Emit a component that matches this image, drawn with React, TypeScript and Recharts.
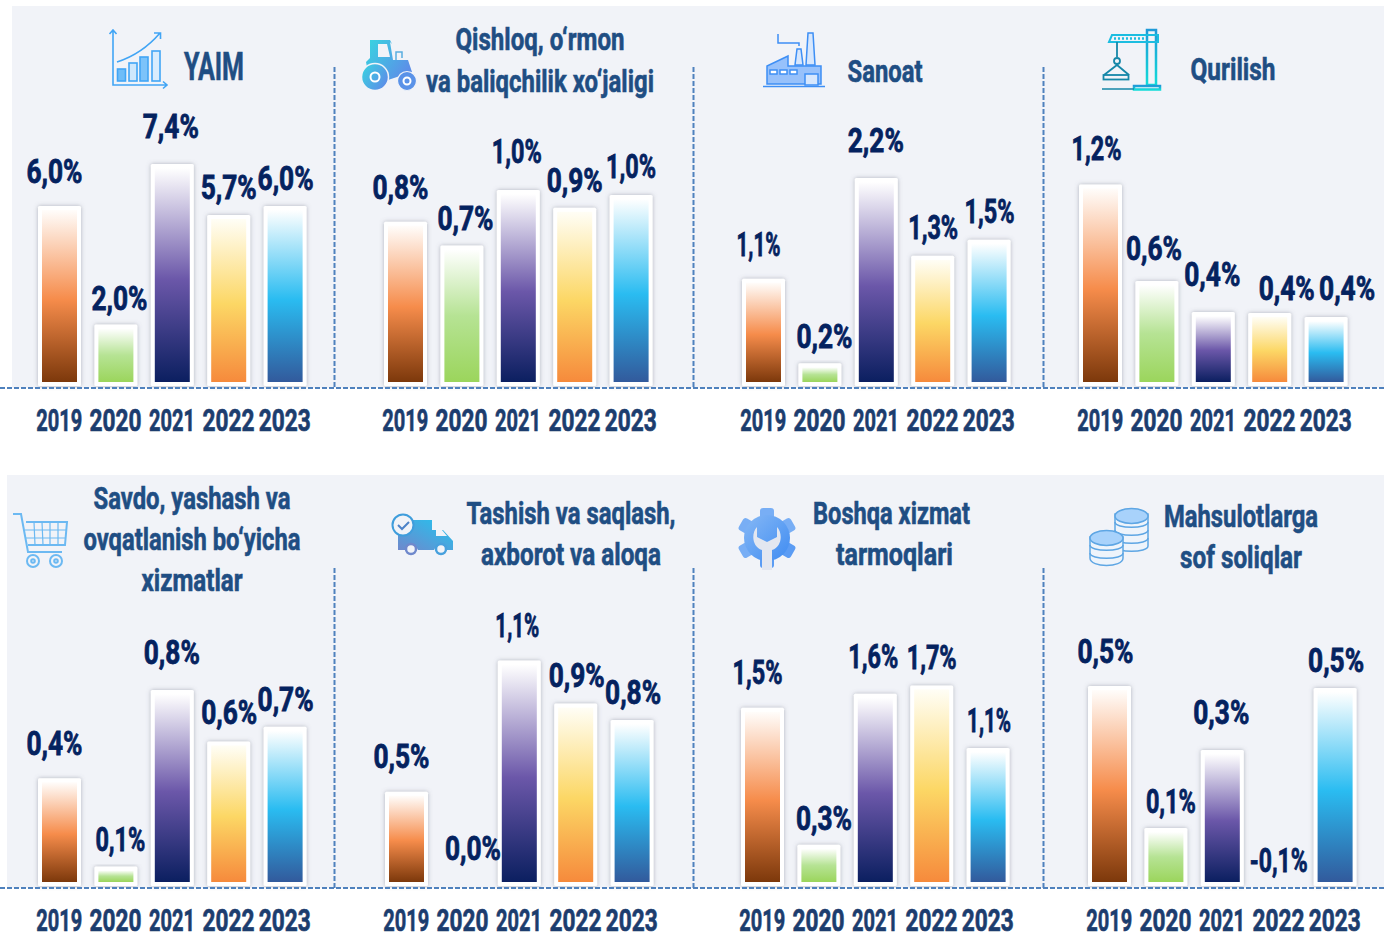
import { Bar, BarChart, LabelList, XAxis, YAxis } from "recharts";

const years = ["2019", "2020", "2021", "2022", "2023"];

// bar values per panel
const yaimValues = [6.0, 2.05, 7.4, 5.7, 6.0];
const qishloqValues = [0.83, 0.71, 0.99, 0.9, 0.965];
const sanoatValues = [1.13, 0.24, 2.19, 1.37, 1.54];
const qurilishValues = [1.2, 0.625, 0.44, 0.435, 0.41];
const savdoValues = [0.44, 0.08, 0.8, 0.59, 0.65];
const tashishValues = [0.46, 0, 1.1, 0.89, 0.81];
const boshqaValues = [1.51, 0.35, 1.63, 1.7, 1.17];
const soliqValues = [0.5, 0.145, 0.34, -0.1, 0.495];

const yaimLabels = ["6,0%", "2,0%", "7,4%", "5,7%", "6,0%"];
const qishloqLabels = ["0,8%", "0,7%", "1,0%", "0,9%", "1,0%"];
const sanoatLabels = ["1,1%", "0,2%", "2,2%", "1,3%", "1,5%"];
const qurilishLabels = ["1,2%", "0,6%", "0,4%", "0,4%", "0,4%"];
const savdoLabels = ["0,4%", "0,1%", "0,8%", "0,6%", "0,7%"];
const tashishLabels = ["0,5%", "0,0%", "1,1%", "0,9%", "0,8%"];
const boshqaLabels = ["1,5%", "0,3%", "1,6%", "1,7%", "1,1%"];
const soliqLabels = ["0,5%", "0,1%", "0,3%", "-0,1%", "0,5%"];

const FONT = "Roboto, sans-serif";
const PLOT_H = 286;
const CHART_H = 335;
const SIDE = 34;
const STEP = 56.4;

const gradients = [
  ["#fffdfb", "#f68c4b", "#7c380b"],
  ["#ffffff", "#b6e394", "#9bd55c"],
  ["#ffffff", "#6b57a9", "#0b1f60"],
  ["#fffef6", "#fcd765", "#f68a3c"],
  ["#ffffff", "#2abcf1", "#325a9c"],
];

const panels = [
  { key: "a", first: 59, base: 100, pxPerUnit: 30, values: yaimValues, labels: yaimLabels,
    shift: [[-5, -35], [3.5, -27], [-1.5, -38], [0, -28], [0.5, -28]] },
  { key: "b", first: 405, base: 100, pxPerUnit: 198, values: qishloqValues, labels: qishloqLabels,
    shift: [[-5, -35], [3.5, -27], [-1.5, -39], [0, -28], [0, -29]] },
  { key: "c", first: 763, base: 100, pxPerUnit: 95, values: sanoatValues, labels: sanoatLabels,
    shift: [[-5, -35], [4.5, -27], [-0.5, -38], [0.5, -29], [0.5, -29]] },
  { key: "d", first: 1100, base: 100, pxPerUnit: 168, values: qurilishValues, labels: qurilishLabels,
    shift: [[-4, -36], [-3, -33], [-1, -38], [17, -25], [21, -29]] },
  { key: "e", first: 59, base: 600, pxPerUnit: 245, values: savdoValues, labels: savdoLabels,
    shift: [[-5, -35], [4.5, -27], [-0.5, -38], [0.5, -29], [0.5, -28]] },
  { key: "f", first: 406.5, base: 600, pxPerUnit: 205, values: tashishValues, labels: tashishLabels,
    shift: [[-5, -36], [10, -38], [-2, -36], [1, -29], [1, -28]] },
  { key: "g", first: 762, base: 600, pxPerUnit: 118, values: boshqaValues, labels: boshqaLabels,
    shift: [[-5, -36], [5, -27], [-2, -38], [0, -28], [1, -28]] },
  { key: "h", first: 1109, base: 600, pxPerUnit: 400, values: soliqValues, labels: soliqLabels,
    shift: [[-4, -35], [5, -27], [-1, -38], [0, -26], [1, -28]] },
];

const titles = [
  { lines: ["YAIM"], xs: [214], ys: [80], widths: [60], size: 39 },
  { lines: ["Qishloq, o‘rmon", "va baliqchilik xo‘jaligi"], xs: [540, 540], ys: [50, 92], widths: [169, 228], size: 31 },
  { lines: ["Sanoat"], xs: [885], ys: [82], widths: [75], size: 32 },
  { lines: ["Qurilish"], xs: [1233], ys: [80], widths: [85], size: 32 },
  { lines: ["Savdo, yashash va", "ovqatlanish bo‘yicha", "xizmatlar"], xs: [192, 192, 192], ys: [509, 550, 591], widths: [197, 217, 101], size: 31 },
  { lines: ["Tashish va saqlash,", "axborot va aloqa"], xs: [571, 571], ys: [524, 565], widths: [209, 180], size: 31 },
  { lines: ["Boshqa xizmat", "tarmoqlari"], xs: [891.5, 894.5], ys: [524, 565], widths: [157, 117], size: 31 },
  { lines: ["Mahsulotlarga", "sof soliqlar"], xs: [1241, 1241], ys: [527, 568], widths: [154, 122], size: 31 },
];

// condensed widths for the narrow poster font: "1" is thin, "%" is wide
const glyphWidth = (c: string) => {
  if (c === "1") return 9;
  if (c === ",") return 6;
  if (c === "%") return 20;
  if (c === "-") return 8;
  return 15;
};
const textWidth = (s: string) => s.split("").reduce((sum, c) => sum + glyphWidth(c), 0);

const yearWidth = (s: string) => s.split("").reduce((sum, c) => sum + (c === "1" ? 7 : 13), 0);

const BarShape = (props: any) => {
  const { x, y, width, height, index, prefix } = props;
  if (!height || height <= 0) return null;
  return (
    <g>
      <rect x={x} y={y} width={width} height={height} rx={1.5} fill="#fff" filter={`url(#${prefix}-shadow)`} />
      <rect x={x + 4} y={y + 4} width={width - 8} height={Math.max(height - 8, 1)} fill={`url(#${prefix}-g${index})`} />
    </g>
  );
};

const YearTick = ({ x, y, payload }: any) => (
  <text x={x} y={y + 37} textAnchor="middle" textLength={yearWidth(payload.value)} lengthAdjust="spacingAndGlyphs"
    fontFamily={FONT} fontWeight={700} fontSize={32} fill="#1c3d6e" stroke="#1c3d6e" strokeWidth={0.7}>
    {payload.value}
  </text>
);

const Panel = ({ panel }: { panel: (typeof panels)[number] }) => {
  const data = years.map((year, i) => ({ year, value: panel.values[i] }));
  const renderLabel = (p: any) => {
    const [dx, dy] = panel.shift[p.index];
    const top = p.height > 0 ? p.y : PLOT_H;
    const label = panel.labels[p.index];
    return (
      <text x={p.x + p.width / 2 + dx} y={top + dy + 12} textAnchor="middle" textLength={textWidth(label)}
        lengthAdjust="spacingAndGlyphs" fontFamily={FONT} fontWeight={700} fontSize={33} fill="#04225f"
        stroke="#04225f" strokeWidth={0.8}>
        {label}
      </text>
    );
  };
  return (
    <div style={{ position: "absolute", left: panel.first - STEP / 2 - SIDE, top: panel.base }}>
      <BarChart width={STEP * 5 + SIDE * 2} height={CHART_H} data={data}
        margin={{ top: 0, right: SIDE, bottom: 0, left: SIDE }} barCategoryGap={0} barSize={43}>
        <defs>
          <filter id={`${panel.key}-shadow`} x="-30%" y="-10%" width="160%" height="120%">
            <feDropShadow dx="0" dy="0" stdDeviation="2.2" floodColor="#6b7080" floodOpacity="0.5" />
          </filter>
          {gradients.map((stops, i) => (
            <linearGradient key={i} id={`${panel.key}-g${i}`} x1="0" y1="0" x2="0" y2="1">
              <stop offset="0%" stopColor={stops[0]} />
              <stop offset={i === 1 ? "50%" : "52%"} stopColor={stops[1]} />
              <stop offset="100%" stopColor={stops[2]} />
            </linearGradient>
          ))}
        </defs>
        <XAxis dataKey="year" height={CHART_H - PLOT_H} axisLine={false} tickLine={false} interval={0} tick={YearTick} />
        <YAxis hide domain={[0, PLOT_H / panel.pxPerUnit]} />
        <Bar dataKey={(d: any) => Math.max(d.value, 0)} isAnimationActive={false}
          shape={(p: any) => <BarShape {...p} prefix={panel.key} />}>
          <LabelList content={renderLabel} />
        </Bar>
      </BarChart>
    </div>
  );
};

const Icons = () => (
  <g>
    <defs>
      <linearGradient id="tr" x1="0" y1="0" x2="1" y2="0.6">
        <stop offset="0%" stopColor="#37d6e0" />
        <stop offset="100%" stopColor="#5c8fe8" />
      </linearGradient>
      <linearGradient id="cr" x1="0" y1="0" x2="0" y2="1">
        <stop offset="0%" stopColor="#1f9ad8" />
        <stop offset="100%" stopColor="#12dcd8" />
      </linearGradient>
      <linearGradient id="tk" x1="0" y1="1" x2="1" y2="0">
        <stop offset="0%" stopColor="#6f88cc" />
        <stop offset="100%" stopColor="#22c4f0" />
      </linearGradient>
      <linearGradient id="gr" x1="0" y1="0" x2="1" y2="1">
        <stop offset="0%" stopColor="#86b8f5" />
        <stop offset="100%" stopColor="#3f8cf2" />
      </linearGradient>
    </defs>

    {/* YAIM */}
    <g fill="none" stroke="#41a5f5" strokeWidth={1.6}>
      <path d="M113 30V85H167M109.5 34L113 30L116.5 34M163 81.5L167 85L163 88.5" />
      <path d="M117 62Q142 54 160 33M154 33H160.5V39" />
      <rect x={117.5} y={69} width={8} height={12} fill="#6fbdf8" />
      <rect x={129} y={63} width={8} height={18} fill="#cfe8fc" />
      <rect x={140} y={57} width={8} height={24} fill="#7cc3fa" />
      <rect x={152} y={51} width={8} height={30} fill="#d8ecfd" />
    </g>

    {/* tractor */}
    <path d="M370 40H390L392 44L390 42L393 60H408L412 72L388 80L368 72L366 62L370 58Z" fill="url(#tr)" />
    <path d="M378 44H387L390 57H378Z" fill="#f1f3f8" />
    <path d="M396 60V52H402V58" fill="none" stroke="#5aaee0" strokeWidth={1.5} />
    <circle cx={375} cy={77} r={13.5} fill="url(#tr)" stroke="#f1f3f8" strokeWidth={1.5} />
    <circle cx={375} cy={77} r={4.5} fill="none" stroke="#fff" strokeWidth={2} />
    <circle cx={407} cy={81} r={9.5} fill="#5a92e8" stroke="#f1f3f8" strokeWidth={1.2} />
    <circle cx={407} cy={81} r={3.5} fill="none" stroke="#fff" strokeWidth={2} />

    {/* factory */}
    <g stroke="#3e8ff5" strokeWidth={1.5}>
      <path d="M767 84V66L788 56V66H821V84Z" fill="#97c1fb" />
      <path d="M795 65L797 49H801L803 65Z" fill="#d7e7fd" />
      <path d="M806 65L808 33H813L815 65Z" fill="#d7e7fd" />
      <path d="M778 34V43H799V46" fill="none" />
      <rect x={805} y={74} width={13} height={11} fill="#d7e7fd" />
      <rect x={770} y={70} width={7} height={4} fill="#fff" />
      <rect x={780} y={70} width={7} height={4} fill="#fff" />
      <rect x={790} y={70} width={7} height={4} fill="#fff" />
      <path d="M763 86.5H825" fill="none" />
    </g>

    {/* crane */}
    <g fill="none" stroke="url(#cr)" strokeWidth={2.5}>
      <path d="M1147 30H1156V85H1147Z" />
      <path d="M1151.5 34V84" strokeDasharray="2 2" />
      <rect x={1134} y={86} width={26} height={3.5} />
    </g>
    <path d="M1112 35H1158V42H1109Z" fill="none" stroke="#1cbde0" strokeWidth={2} />
    <path d="M1114 38.5H1146" fill="none" stroke="#1cbde0" strokeWidth={2.5} strokeDasharray="2 2" />
    <path d="M1102 89H1134" stroke="#1587a8" strokeWidth={1.5} />
    <g fill="none" stroke="#1587a8" strokeWidth={1.8}>
      <path d="M1117 42V57" />
      <path d="M1104 75L1117 65L1129 75" />
      <circle cx={1117} cy={61} r={3} />
      <rect x={1103.5} y={75} width={25} height={4.5} />
    </g>

    {/* cart */}
    <g fill="none" stroke="#6cb9f2" strokeWidth={2}>
      <path d="M13 514H21L28 552H62" />
      <path d="M26 522H67L65 545H28" />
      <path d="M25 530H66M26 538H65M34 522L35 545M42 522L43 545M50 522V545M58 522V545" strokeWidth={1.2} />
      <circle cx={33} cy={561} r={6} />
      <circle cx={56} cy={561} r={6} />
      <circle cx={33} cy={561} r={1.8} />
      <circle cx={56} cy={561} r={1.8} />
    </g>

    {/* truck */}
    <g>
      <path d="M405 520H432V530H443L453 541V550H447A7 7 0 0 0 434 550H418A7 7 0 0 0 405 550H398V535H405Z" fill="url(#tk)" />
      <path d="M436 530H442L447 536H436Z" fill="#f1f3f8" />
      <circle cx={403} cy={525} r={10.5} fill="#f1f3f8" stroke="#3f9ddc" strokeWidth={2} />
      <path d="M398 525L402 529L409 522" fill="none" stroke="#4d82c8" strokeWidth={2} />
      <circle cx={411} cy={549} r={5} fill="#f1f3f8" stroke="#6f88cc" strokeWidth={2.5} />
      <circle cx={441} cy={549} r={5} fill="#f1f3f8" stroke="#47a0dd" strokeWidth={2.5} />
    </g>

    {/* gear */}
    <g>
      {[0, 60, 120, 180, 240, 300].map((deg) => (
        <rect key={deg} x={760} y={508} width={14} height={14} rx={3} fill={deg > 60 && deg < 240 ? "#5b9cf4" : "#78aef5"}
          transform={`rotate(${deg} 767 538)`} />
      ))}
      <circle cx={767} cy={538} r={23} fill="url(#gr)" />
      <path d="M762 570V550C752 547 751 533 757 527V537L767 542L777 537V527C783 533 782 547 772 550V570Z" fill="#e3e7f0" />
    </g>

    {/* coins */}
    <g stroke="#5ea6e4" strokeWidth={1.5} fill="#eef4fb">
      <path d="M1115 514V546C1115 553 1148 553 1148 546V514Z" />
      <path d="M1115 522C1115 529 1148 529 1148 522M1115 530C1115 537 1148 537 1148 530M1115 538C1115 545 1148 545 1148 538" fill="none" />
      <ellipse cx={1131.5} cy={516} rx={16.5} ry={7.5} fill="#a8d2fb" />
      <path d="M1090 537V558C1090 568 1123 568 1123 558V537Z" />
      <path d="M1090 545C1090 552 1123 552 1123 545M1090 553C1090 560 1123 560 1123 553" fill="none" />
      <ellipse cx={1106.5} cy={538} rx={16.5} ry={7.5} fill="#a8d2fb" />
    </g>
  </g>
);

export default function App() {
  return (
    <div style={{ position: "absolute", left: 0, top: 0, width: 1384, height: 935, background: "#fff", overflow: "hidden" }}>
      <div style={{ position: "absolute", left: 12, top: 6, width: 1372, height: 382, background: "#f1f3f8" }} />
      <div style={{ position: "absolute", left: 7, top: 475, width: 1377, height: 413, background: "#f1f3f8" }} />
      {panels.map((panel) => (
        <Panel key={panel.key} panel={panel} />
      ))}
      <svg width={1384} height={935} style={{ position: "absolute", left: 0, top: 0, pointerEvents: "none" }}>
        <g stroke="#4f81bd" strokeWidth={2} strokeDasharray="5 2" fill="none">
          <path d="M0 388H1384M0 888H1384" />
          <path d="M334.5 67V388M693.5 67V388M1043.5 67V388" />
          <path d="M334.5 568V888M693.5 568V888M1043.5 568V888" />
        </g>
        <Icons />
        {titles.map((t) =>
          t.lines.map((line, i) => (
            <text key={line} x={t.xs[i]} y={t.ys[i]} textAnchor="middle" textLength={t.widths[i]} lengthAdjust="spacingAndGlyphs"
              fontFamily={FONT} fontWeight={700} fontSize={t.size} fill="#1f4e83" stroke="#1f4e83" strokeWidth={0.6}>
              {line}
            </text>
          )),
        )}
      </svg>
    </div>
  );
}
